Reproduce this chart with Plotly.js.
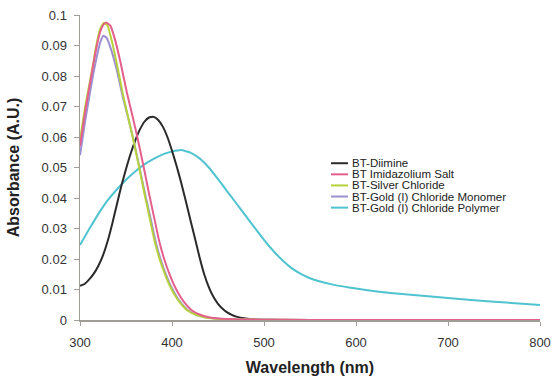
<!DOCTYPE html>
<html>
<head>
<meta charset="utf-8">
<script src="https://cdn.plot.ly/plotly-3.0.1.min.js"></script>
<style>html,body{margin:0;padding:0;background:#fff;}#chart{width:552px;height:381px;}</style>
</head>
<body>
<div id="chart"></div>
<script>
// Series names and colours
var seriesNames = ["BT-Diimine", "BT Imidazolium Salt", "BT-Silver Chloride", "BT-Gold (I) Chloride Monomer", "BT-Gold (I) Chloride Polymer"];
var seriesColors = ["#2a2a2a", "#e45f8c", "#b6d23a", "#9d90d2", "#4fc3cf"];

// BT-Diimine
var diimineX = [300,305,310,315,320,325,330,335,340,345,350,355,360,365,370,375,380,385,390,395,400,405,410,415,420,425,430,435,440,445,450,455,460,465,470,480,490,500,520,600,700,800];
var diimineY = [0.0112,0.0118,0.0133,0.0152,0.0178,0.0212,0.0258,0.0315,0.0378,0.0440,0.0495,0.0545,0.0588,0.0624,0.0650,0.0664,0.0666,0.0656,0.0634,0.0600,0.0555,0.0505,0.0450,0.0390,0.0328,0.0267,0.0205,0.0150,0.0108,0.0076,0.0053,0.0037,0.0025,0.0017,0.0011,0.0005,0.0002,0.0001,0,0,0,0];

// BT Imidazolium Salt
var saltX = [300,303,306,310,314,318,322,326,329,333,338,344,351,357,363,370,375,381,386,392,398,403,410,415,421,430,440,455,475,500,550,600,700,800];
var saltY = [0.057,0.063,0.069,0.076,0.083,0.0895,0.0945,0.097,0.0975,0.0965,0.092,0.0845,0.0745,0.067,0.059,0.049,0.0415,0.033,0.026,0.0195,0.0145,0.011,0.0072,0.0052,0.0033,0.0018,0.0009,0.0004,0.0002,0.0001,0,0,0,0];

// BT-Silver Chloride
var silverX = [300,303,306,310,314,318,322,326,330,335,340,347,352,358,365,370,376,381,387,393,398,405,410,416,425,435,450,470,500,550,600,700,800];
var silverY = [0.0585,0.065,0.0705,0.077,0.0835,0.0905,0.0955,0.0975,0.0965,0.091,0.084,0.0735,0.067,0.059,0.049,0.0415,0.033,0.026,0.0195,0.0145,0.011,0.0072,0.0052,0.0033,0.0018,0.0009,0.0004,0.0002,0.0001,0,0,0,0];

// BT-Gold (I) Chloride Monomer
var monomerX = [300,303,306,310,314,318,322,325.5,329,334,340,347,353,359,366,371,377,382,388,394,399,406,411,417,426,436,450,470,500,550,600,700,800];
var monomerY = [0.054,0.060,0.066,0.073,0.080,0.086,0.091,0.0932,0.0925,0.0885,0.082,0.0725,0.0655,0.058,0.048,0.041,0.033,0.026,0.0195,0.0145,0.011,0.0072,0.0052,0.0033,0.0018,0.0009,0.0004,0.0002,0.0001,0,0,0,0];

// BT-Gold (I) Chloride Polymer
var polymerX = [300,310,320,330,340,350,360,370,380,390,400,410,420,430,440,450,460,470,480,490,500,510,520,530,540,550,560,575,600,625,650,700,750,800];
var polymerY = [0.0246,0.0298,0.0348,0.0392,0.0428,0.0460,0.0487,0.0510,0.0528,0.0543,0.0552,0.0557,0.0549,0.0530,0.0500,0.0462,0.0422,0.0382,0.0342,0.0302,0.0263,0.0227,0.0196,0.0170,0.0151,0.0137,0.0127,0.0116,0.0103,0.0093,0.0085,0.0072,0.0060,0.0049];

// Ticks
var xTickVals = [300,400,500,600,700,800];
var xTickText = ["300","400","500","600","700","800"];
var yTickVals = [0,0.01,0.02,0.03,0.04,0.05,0.06,0.07,0.08,0.09,0.1];
var yTickText = ["0","0.01","0.02","0.03","0.04","0.05","0.06","0.07","0.08","0.09","0.1"];

var xs = [diimineX, saltX, silverX, monomerX, polymerX];
var ys = [diimineY, saltY, silverY, monomerY, polymerY];

// draw order: polymer and diimine behind the UV peaks
var order = [4, 0, 3, 2, 1];
var traces = order.map(function(i){
  return {
    x: xs[i], y: ys[i], name: seriesNames[i], type: 'scatter', mode: 'lines',
    line: {color: seriesColors[i], width: 2, shape: 'spline', smoothing: 0.4},
    showlegend: false, hoverinfo: 'skip'
  };
});

// legend: swatches and labels built from names/colours
var legendTop = 0.514, legendStep = 0.0364;
var legX0 = 0.5457, legX1 = 0.5826, legText = 0.587;
var annotations = seriesNames.map(function(n, i){
  return {
    xref: 'paper', yref: 'paper', x: legText, y: legendTop - i*legendStep,
    xanchor: 'left', yanchor: 'middle', showarrow: false, text: n,
    font: {family: 'Liberation Sans, Arial, sans-serif', size: 11.5, color: '#222'}
  };
});
var shapes = seriesNames.map(function(n, i){
  var yy = legendTop - i*legendStep;
  return {
    type: 'line', xref: 'paper', yref: 'paper', x0: legX0, x1: legX1, y0: yy, y1: yy,
    line: {color: seriesColors[i], width: 2}
  };
});

var axisFont = {family: 'Liberation Sans, Arial, sans-serif', size: 13, color: '#333'};
var titleFont = {family: 'Liberation Sans, Arial, sans-serif', size: 16, color: '#222', weight: 'bold'};
var layout = {
  width: 552, height: 381,
  margin: {l: 80, r: 12, t: 15, b: 61},
  paper_bgcolor: '#fff', plot_bgcolor: '#fff',
  showlegend: false,
  xaxis: {
    range: [300, 800], tickmode: 'array', tickvals: xTickVals, ticktext: xTickText,
    showgrid: false, zeroline: false, showline: true, linecolor: '#a09c98', linewidth: 1.5,
    ticks: 'outside', ticklen: 4, tickcolor: '#a09c98', ticklabelstandoff: 6,
    tickfont: axisFont,
    title: {text: 'Wavelength (nm)', font: titleFont, standoff: 12}
  },
  yaxis: {
    range: [0, 0.1], tickmode: 'array', tickvals: yTickVals, ticktext: yTickText,
    showgrid: false, zeroline: false, showline: true, linecolor: '#a09c98', linewidth: 1.5,
    ticks: 'outside', ticklen: 5, tickcolor: '#a09c98', ticklabelstandoff: 4,
    tickfont: axisFont,
    title: {text: 'Absorbance (A.U.)', font: titleFont, standoff: 18}
  },
  annotations: annotations,
  shapes: shapes
};

Plotly.newPlot('chart', traces, layout, {staticPlot: true, displayModeBar: false});
</script>
</body>
</html>
